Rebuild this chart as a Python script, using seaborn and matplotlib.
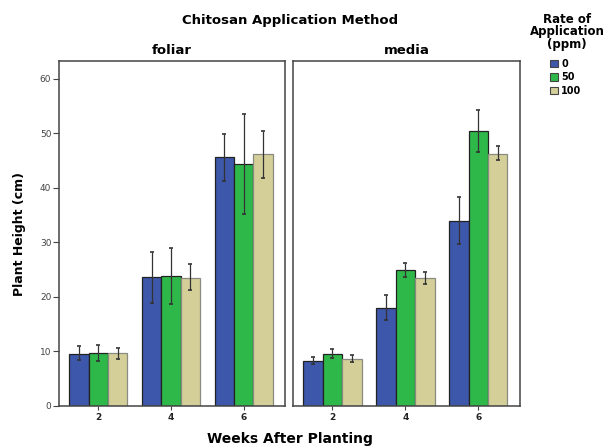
import matplotlib.pyplot as plt
import seaborn as sns
import numpy as np
import pandas as pd

weeks = ["2", "4", "6"]
rates = ["0", "50", "100"]
colors = ["#3D57AA", "#2FB84A", "#D4CF99"]

# mean plant height, rows = week, cols = rate
foliar_mean = [[9.6, 9.7, 9.7], [23.6, 23.8, 23.5], [45.6, 44.3, 46.2]]
foliar_lo = [[8.4, 8.3, 8.6], [18.9, 18.6, 21.3], [41.2, 35.2, 41.8]]
foliar_hi = [[11.0, 11.1, 10.7], [28.3, 29.0, 26.0], [49.8, 53.6, 50.5]]

media_mean = [[8.3, 9.6, 8.6], [18.0, 25.0, 23.5], [34.0, 50.4, 46.3]]
media_lo = [[7.7, 8.7, 8.0], [15.7, 23.6, 22.4], [29.7, 46.5, 45.1]]
media_hi = [[8.9, 10.5, 9.3], [20.4, 26.3, 24.5], [38.4, 54.2, 47.6]]

plt.rcParams['font.family'] = ['DejaVu Sans']


def to_frame(mean, lo, hi):
    rows = []
    for i, w in enumerate(weeks):
        for j, r in enumerate(rates):
            rows.append({"week": w, "rate": r, "height": mean[i][j],
                         "lo": lo[i][j], "hi": hi[i][j]})
    return pd.DataFrame(rows)


fig = plt.figure(figsize=(6.08, 4.48), dpi=100)
ax1 = fig.add_axes([0.097, 0.094, 0.372, 0.769])
ax2 = fig.add_axes([0.482, 0.094, 0.373, 0.769])

panels = [(ax1, "foliar", foliar_mean, foliar_lo, foliar_hi),
          (ax2, "media", media_mean, media_lo, media_hi)]

for ax, name, mean, lo, hi in panels:
    df = to_frame(mean, lo, hi)
    sns.barplot(data=df, x="week", y="height", hue="rate", order=weeks,
                hue_order=rates, palette=colors, saturation=1, errorbar=None,
                width=0.8, edgecolor="#222222", linewidth=0.9, ax=ax,
                legend=False)
    # errorbars at bar centres
    for j, r in enumerate(rates):
        cont = ax.containers[j]
        sub = df[df.rate == r].set_index("week").loc[weeks]
        xs = [p.get_x() + p.get_width() / 2 for p in cont.patches]
        ys = sub.height.values
        err = [ys - sub.lo.values, sub.hi.values - ys]
        ax.errorbar(xs, ys, yerr=err, fmt="none", ecolor="#333333",
                    elinewidth=0.9, capsize=1.6, capthick=1.2)
    # tan bars have grey edge
    for p in ax.containers[2].patches:
        p.set_edgecolor("#8a8a80")
    ax.set_xlim(-0.54, 2.57)
    ax.set_ylim(0, 63.2)
    ax.set_title(name, fontsize=9.5, fontweight="bold", pad=5)
    ax.set_xlabel("")
    ax.set_ylabel("")
    for s in ax.spines.values():
        s.set_color("#444444")
        s.set_linewidth(1.1)
    ax.tick_params(axis="x", length=3, width=0.8, colors="#444444",
                   labelcolor="#222222", labelsize=6.5, pad=2)
    for t in ax.get_xticklabels():
        t.set_fontweight("bold")

ax1.set_yticks([0, 10, 20, 30, 40, 50, 60])
ax1.tick_params(axis="y", length=4.5, width=0.8, colors="#444444",
                labelcolor="#444444", labelsize=6.5, pad=1)
ax1.set_ylabel("Plant Height (cm)", fontsize=9, fontweight="bold",
               labelpad=10)
ax2.set_yticks([])

fig.text(0.477, 0.955, "Chitosan Application Method", ha="center",
         va="center", fontsize=9.5, fontweight="bold")
fig.text(0.477, 0.02, "Weeks After Planting", ha="center", va="center",
         fontsize=10, fontweight="bold")

# legend title as separate text, legend entries below it
fig.text(0.933, 0.972, "Rate of\nApplication\n(ppm)", ha="center", va="top",
         fontsize=8.5, fontweight="bold", linespacing=0.98)
handles = [plt.Rectangle((0, 0), 1, 1, facecolor=c, edgecolor="#444444",
                         linewidth=0.8) for c in colors]
leg = fig.legend(handles, rates, loc="upper left",
                 bbox_to_anchor=(550 / 608, 1 - 59 / 448),
                 frameon=False, prop={"size": 7, "weight": "bold"},
                 handlelength=0.85, handleheight=0.75, handletextpad=0.3,
                 labelspacing=0.35, borderaxespad=0, borderpad=0)

fig.savefig("out.png", dpi=100)
